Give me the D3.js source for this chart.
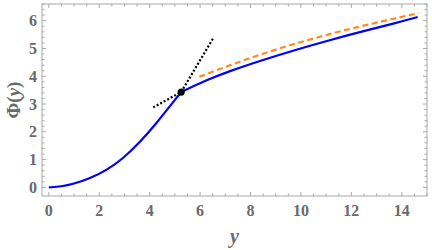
<!DOCTYPE html>
<html><head><meta charset="utf-8">
<script src="https://cdn.jsdelivr.net/npm/d3@7"></script>
<style>body{margin:0;background:#fff}svg{display:block}</style>
</head><body>
<svg id="c" width="432" height="250"></svg>
<script>
const xTicks = [0,2,4,6,8,10,12,14];
const yTicks = [0,1,2,3,4,5,6];
const blueLeft = [[0,0],[0.5,0.03],[0.97,0.12],[1.63,0.32],[2.30,0.62],[2.95,1.04],[3.61,1.62],[4.28,2.32],[4.93,3.07],[5.25,3.43]];
const blueRight = [[5.25,3.43],[6.25,3.86],[7.18,4.19],[8.5,4.59],[9.82,4.96],[11.14,5.30],[12.45,5.62],[13.78,5.92],[14.63,6.13]];
const orange = [[5.97,3.98],[7.18,4.40],[8.5,4.82],[9.82,5.19],[11.14,5.52],[12.45,5.82],[13.78,6.09],[14.66,6.27]];
const tangentShallow = [[4.14,2.88],[5.25,3.43]];
const tangentSteep = [[5.25,3.43],[6.54,5.40]];
const kink = [5.25,3.43];

const L=42,R=427,T=4,B=196;
const svg=d3.select('#c');
const x=d3.scaleLinear().domain([-0.27,15.0]).range([L,R]);
const y=d3.scaleLinear().domain([-0.31,6.6]).range([B,T]);
const frameCol='#a8a8a8', labCol='#6a6a6a';

svg.append('rect').attr('x',L).attr('y',T).attr('width',R-L).attr('height',B-T)
  .attr('fill','none').attr('stroke',frameCol).attr('stroke-width',1);

const xMinor=d3.range(0,15.01,0.5).filter(v=>!xTicks.includes(v));
const yMinor=d3.range(0,6.61,0.2).map(v=>+v.toFixed(1)).filter(v=>!yTicks.includes(v));
const g=svg.append('g').attr('stroke',frameCol).attr('stroke-width',1);
xTicks.forEach(v=>{g.append('line').attr('x1',x(v)).attr('x2',x(v)).attr('y1',B).attr('y2',B-4);
  g.append('line').attr('x1',x(v)).attr('x2',x(v)).attr('y1',T).attr('y2',T+4);});
xMinor.forEach(v=>{g.append('line').attr('x1',x(v)).attr('x2',x(v)).attr('y1',B).attr('y2',B-2.5);
  g.append('line').attr('x1',x(v)).attr('x2',x(v)).attr('y1',T).attr('y2',T+2.5);});
yTicks.forEach(v=>{g.append('line').attr('x1',L).attr('x2',L+4).attr('y1',y(v)).attr('y2',y(v));
  g.append('line').attr('x1',R).attr('x2',R-4).attr('y1',y(v)).attr('y2',y(v));});
yMinor.forEach(v=>{g.append('line').attr('x1',L).attr('x2',L+2.5).attr('y1',y(v)).attr('y2',y(v));
  g.append('line').attr('x1',R).attr('x2',R-2.5).attr('y1',y(v)).attr('y2',y(v));});

const font='"Liberation Serif","DejaVu Serif",serif';
svg.append('g').selectAll('text').data(xTicks).join('text')
  .attr('x',d=>x(d)).attr('y',B+20).attr('text-anchor','middle')
  .attr('font-family',font).attr('font-weight','bold').attr('font-size',16).attr('fill',labCol).text(d=>d);
svg.append('g').selectAll('text').data(yTicks).join('text')
  .attr('x',L-5).attr('y',d=>y(d)+5.5).attr('text-anchor','end')
  .attr('font-family',font).attr('font-weight','bold').attr('font-size',16).attr('fill',labCol).text(d=>d);

svg.append('text').attr('x',(L+R)/2).attr('y',243).attr('text-anchor','middle')
  .attr('font-family',font).attr('font-weight','bold').attr('font-style','italic').attr('font-size',20).attr('fill',labCol).text('y');
const yl=svg.append('text').attr('transform',`translate(20,${(T+B)/2}) rotate(-90)`).attr('text-anchor','middle')
  .attr('font-family',font).attr('font-weight','bold').attr('font-size',19).attr('fill',labCol);
yl.append('tspan').text('Φ(');
yl.append('tspan').attr('font-style','italic').text('y');
yl.append('tspan').text(')');

const line=d3.line().x(d=>x(d[0])).y(d=>y(d[1])).curve(d3.curveBasis);
const lin=d3.line().x(d=>x(d[0])).y(d=>y(d[1]));
svg.append('path').attr('d',line(orange)).attr('fill','none').attr('stroke','#ff8c1a').attr('stroke-width',2.2).attr('stroke-dasharray','6,3.5');
svg.append('path').attr('d',line(blueLeft)).attr('fill','none').attr('stroke','#0000ff').attr('stroke-width',2.2);
svg.append('path').attr('d',line(blueRight)).attr('fill','none').attr('stroke','#0000ff').attr('stroke-width',2.2);
[tangentShallow,tangentSteep].forEach(t=>svg.append('path').attr('d',lin(t)).attr('fill','none').attr('stroke','#000').attr('stroke-width',2.2).attr('stroke-dasharray','2,2'));
svg.append('circle').attr('cx',x(kink[0])).attr('cy',y(kink[1])).attr('r',3.6).attr('fill','#000');
</script>
</body></html>
